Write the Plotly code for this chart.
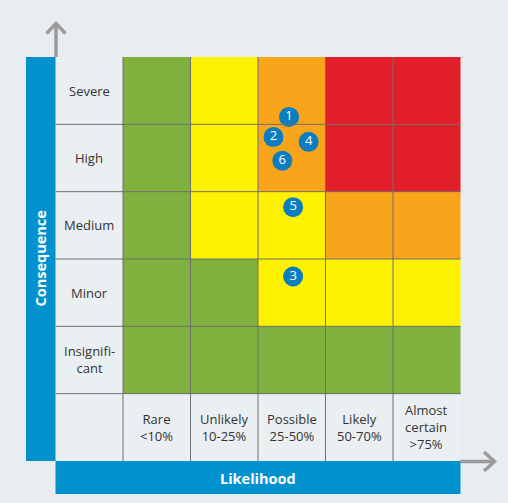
import plotly.graph_objects as go

W, H = 508, 503

likelihood = ["Rare<br><10%", "Unlikely<br>10-25%", "Possible<br>25-50%",
              "Likely<br>50-70%", "Almost<br>certain<br>>75%"]
consequence = ["Insignifi-<br>cant", "Minor", "Medium", "High", "Severe"]

# risk level per cell, rows bottom (Insignificant) to top (Severe)
# 1 green, 2 yellow, 3 orange, 4 red
levels = [
    [1, 1, 1, 1, 1],
    [1, 1, 2, 2, 2],
    [1, 2, 2, 3, 3],
    [1, 2, 3, 4, 4],
    [1, 2, 3, 4, 4],
]

# numbered risks, position in likelihood / consequence units (0 = first category)
risk_ids = ["1", "2", "3", "4", "5", "6"]
risk_x = [1.96, 1.73, 2.02, 2.25, 2.02, 1.86]
risk_y = [3.61, 3.31, 1.24, 3.24, 2.27, 2.96]

bg = "#e8edf0"
blue = "#0091cf"
gray = "#9b9b9b"
line_col = "#70706a"

# full 6x6 grid incl. label row/column (level 0 = blank label cells)
z = [[0] * 6] + [[0] + row for row in levels]
cols = ["#eaeff1", "#80b13e", "#fff200", "#f8a51c", "#e31e2b"]
cscale = []
for i, c in enumerate(cols):
    cscale += [[i / len(cols), c], [(i + 1) / len(cols), c]]

fig = go.Figure()
fig.add_trace(go.Heatmap(
    z=z, x=list(range(-1, 5)), y=list(range(-1, 5)),
    colorscale=cscale, zmin=-0.5, zmax=4.5, showscale=False, hoverinfo="skip"))

fig.add_trace(go.Scatter(
    x=risk_x, y=risk_y, mode="markers+text", text=risk_ids,
    textposition="middle center",
    textfont=dict(color="white", size=13, family="Open Sans"),
    marker=dict(size=20, color="#0b7dc1"), hoverinfo="skip"))

# pixel -> data helpers (cell ~67.5 px, grid from (55.5,57) to (460.5,461))
cw, ch = 67.5, 67.33
def dx(px):
    return -1.5 + (px - 55.5) / cw
def dy(py):
    return 4.5 - (py - 57) / ch

shapes = []
for e in range(5):
    v = -0.5 + e
    shapes.append(dict(type="line", x0=v, x1=v, y0=-1.5, y1=4.5,
                       line=dict(color=line_col, width=1), layer="above"))
    shapes.append(dict(type="line", x0=-1.5, x1=4.5, y0=v, y1=v,
                       line=dict(color=line_col, width=1), layer="above"))

# blue bars
shapes.append(dict(type="rect", x0=dx(26), x1=-1.5, y0=dy(461), y1=4.5,
                   fillcolor=blue, line_width=0, layer="above"))
shapes.append(dict(type="rect", x0=-1.5, x1=4.5, y0=dy(494), y1=-1.5,
                   fillcolor=blue, line_width=0, layer="above"))

# arrows
shapes.append(dict(type="path",
                   path=f"M {dx(56)},{dy(57)} L {dx(56)},{dy(24)}",
                   line=dict(color=gray, width=3.5), layer="above"))
shapes.append(dict(type="path",
                   path=f"M {dx(46.5)},{dy(33.5)} L {dx(56)},{dy(23.5)} L {dx(65.5)},{dy(33.5)}",
                   line=dict(color=gray, width=3.5), layer="above"))
shapes.append(dict(type="path",
                   path=f"M {dx(460)},{dy(461.5)} L {dx(494)},{dy(461.5)}",
                   line=dict(color=gray, width=3.5), layer="above"))
shapes.append(dict(type="path",
                   path=f"M {dx(484)},{dy(452)} L {dx(494.5)},{dy(461.5)} L {dx(484)},{dy(471)}",
                   line=dict(color=gray, width=3.5), layer="above"))

annotations = []
for i, lab in enumerate(likelihood):
    annotations.append(dict(x=i, y=-1, text=lab, showarrow=False,
                            font=dict(size=13, color="#333333", family="Open Sans")))
for j, lab in enumerate(consequence):
    annotations.append(dict(x=-1, y=j, text=lab, showarrow=False,
                            font=dict(size=13, color="#333333", family="Open Sans")))
annotations.append(dict(x=dx(40.5), y=1.5, text="<b>Consequence</b>", textangle=-90,
                        showarrow=False,
                        font=dict(size=14.5, color="white", family="Open Sans")))
annotations.append(dict(x=1.5, y=dy(478), text="<b>Likelihood</b>", showarrow=False,
                        font=dict(size=14.5, color="white", family="Open Sans")))

fig.update_layout(
    width=W, height=H,
    margin=dict(l=0, r=0, t=0, b=0),
    paper_bgcolor=bg, plot_bgcolor=bg,
    showlegend=False,
    shapes=shapes, annotations=annotations,
    xaxis=dict(range=[dx(0), dx(W)], visible=False, fixedrange=True),
    yaxis=dict(range=[dy(H), dy(0)], visible=False, fixedrange=True),
)

fig.write_html("out.html", config={"displayModeBar": False},
               post_script="document.body.style.margin='0';"
                           "document.body.style.overflow='hidden';")
